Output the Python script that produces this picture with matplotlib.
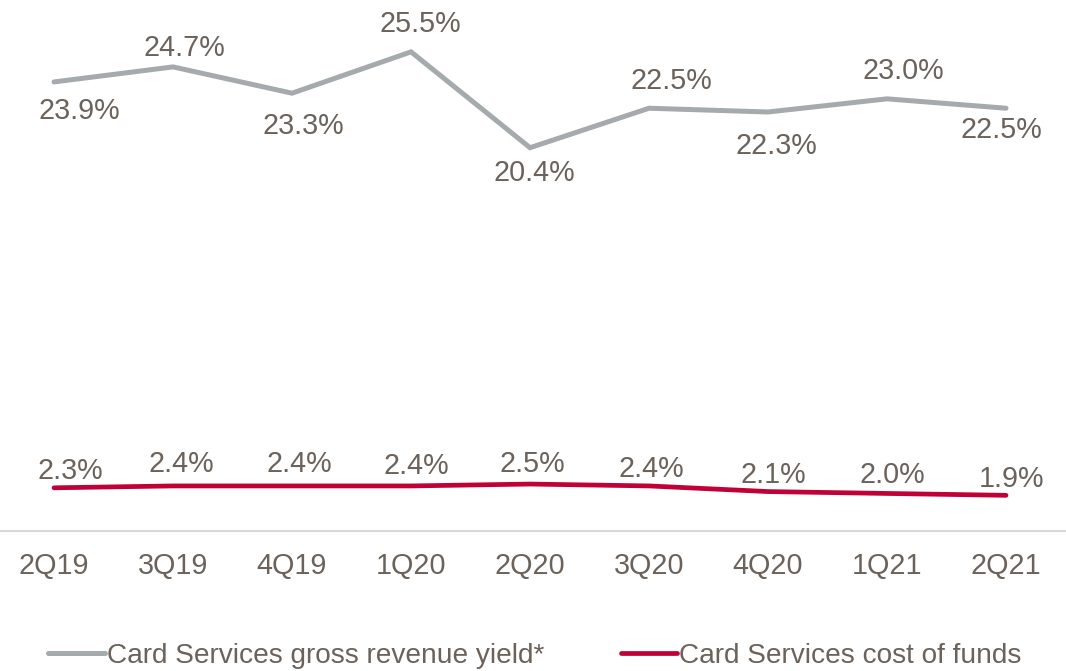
import matplotlib.pyplot as plt

plt.rcParams['font.family'] = ['Liberation Sans', 'DejaVu Sans']

# quarterly card services yields (%)
quarters = ['2Q19', '3Q19', '4Q19', '1Q20', '2Q20', '3Q20', '4Q20', '1Q21', '2Q21']
gross_yield = [23.9, 24.7, 23.3, 25.5, 20.4, 22.5, 22.3, 23.0, 22.5]
cost_of_funds = [2.3, 2.4, 2.4, 2.4, 2.5, 2.4, 2.1, 2.0, 1.9]

text_col = '#6b625b'
gray_col = '#a5aaad'
red_col = '#c00037'
fs = 20.7

fig = plt.figure(figsize=(10.66, 6.71), dpi=100)
ax = fig.add_axes([0, 0.2086, 1, 0.7914])

x = list(range(len(quarters)))
ax.plot(x, gross_yield, color=gray_col, lw=3.6, solid_capstyle='round',
        solid_joinstyle='miter', label='Card Services gross revenue yield*')
ax.plot(x, cost_of_funds, color=red_col, lw=3.4, solid_capstyle='round',
        label='Card Services cost of funds')

# label offsets in points (x, y)
gray_dx = [18, 8, 8, 7, 3, 16, 6, 12, -3]
gray_dy = [-20.9, 13.7, -23.8, 20.2, -18, 19.4, -24.5, 20.2, -15.8]
for i, v in enumerate(gross_yield):
    ax.annotate(f'{v:.1f}%', (i, v), xytext=(gray_dx[i], gray_dy[i]),
                textcoords='offset points', ha='center', va='center',
                fontsize=fs, color=text_col)

red_dx = [12, 6, 5, 4, 2, 2, 4, 4, 4]
red_dy = [12.2, 15.8, 15.8, 14.4, 14.4, 12.2, 12.2, 13, 11.5]
for i, v in enumerate(cost_of_funds):
    ax.annotate(f'{v:.1f}%', (i, v), xytext=(red_dx[i], red_dy[i]),
                textcoords='offset points', ha='center', va='center',
                fontsize=fs, color=text_col)

ax.set_xlim(-0.454, 8.504)
ax.set_ylim(0, 28.26)
ax.set_xticks(x)
ax.set_xticklabels(quarters, fontsize=fs, color=text_col)
ax.tick_params(axis='x', length=0, pad=15)
ax.set_yticks([])
for side in ['top', 'left', 'right']:
    ax.spines[side].set_visible(False)
ax.spines['bottom'].set_color('#d9d9d9')
ax.spines['bottom'].set_linewidth(1.5)

leg = fig.legend(loc='center', bbox_to_anchor=(0.502, 0.022), ncol=2,
                 frameon=False, fontsize=20.2, handlelength=2.0,
                 handletextpad=0.1, columnspacing=2.7)
for t in leg.get_texts():
    t.set_color(text_col)

fig.savefig('out.png', dpi=100)
